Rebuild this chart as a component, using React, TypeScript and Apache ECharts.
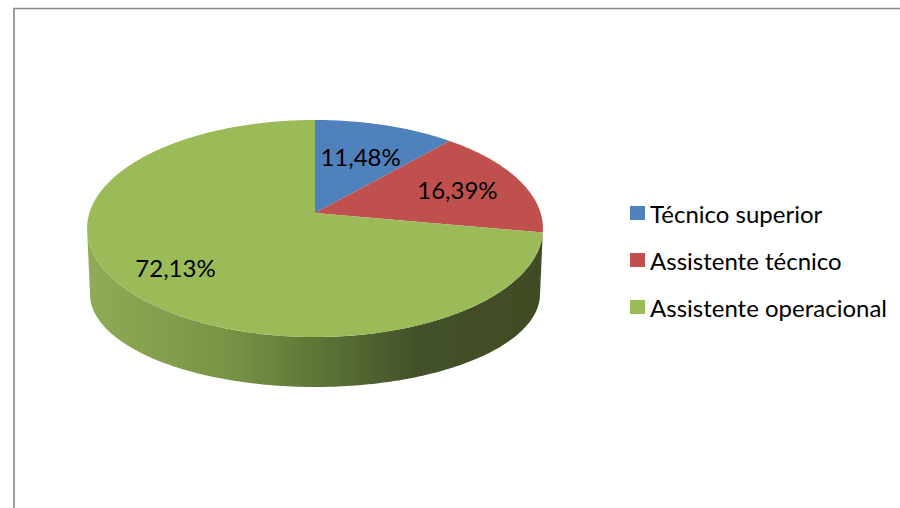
import React, { useEffect, useRef } from "react";
import * as echarts from "echarts";

const categories = ["Técnico superior", "Assistente técnico", "Assistente operacional"];
const shares = [11.48, 16.39, 72.13];
const colors = ["#4F81BD", "#C0504D", "#9BBB59"];
const sideColors = ["#2f4f78", "#7a2f2d", "#3f4b23"];
const labelRadius = [0.62, 0.69, 0.75];

// perspective geometry of the 3D pie
const CX = 315;
const VY = 213;
const A = 225.6;
const B = 106.3;
const K = 0.143;
const BOT_VY = 280.7;
const A2 = 222.7;
const B2 = 91.1;
const FONT = '24px Lato, "Noto Sans", sans-serif';

function topPt(th: number, r = 1): number[] {
  const u = r * Math.sin(th);
  const v = r * Math.cos(th);
  const d = 1 + K * v;
  return [CX + (A * u) / d, VY - (B * v) / d];
}
function botPt(th: number): number[] {
  const u = Math.sin(th);
  const v = Math.cos(th);
  const d = 1 + K * v;
  return [CX + (A2 * u) / d, BOT_VY - (B2 * v) / d];
}
function arc(fn: (t: number) => number[], a: number, b: number): number[][] {
  const n = Math.max(2, Math.ceil(Math.abs(b - a) / (Math.PI / 180)));
  const pts: number[][] = [];
  for (let i = 0; i <= n; i++) pts.push(fn(a + ((b - a) * i) / n));
  return pts;
}

export default function App() {
  const ref = useRef<HTMLDivElement>(null);
  useEffect(() => {
    if (!ref.current) return;
    const chart = echarts.init(ref.current, null, { renderer: "svg" });
    const total = shares.reduce((s, v) => s + v, 0);
    const starts: number[] = [];
    let acc = 0;
    shares.forEach((v) => {
      starts.push(acc);
      acc += v;
    });
    const visL = Math.PI / 2 + Math.asin(K);
    const visR = (3 * Math.PI) / 2 - Math.asin(K);

    const makeSeries = (i: number, pass: "side" | "top") => ({
      type: "custom",
      name: categories[i],
      coordinateSystem: "none",
      itemStyle: { color: colors[i] },
      data: [shares[i]],
      silent: true,
      z: pass === "side" ? 1 : 2,
      renderItem: (params: any, api: any) => {
        const value = api.value(0);
        const s = (2 * Math.PI * starts[i]) / total;
        const e = s + (2 * Math.PI * value) / total;
        const children: any[] = [];
        if (pass === "side") {
          const a = Math.max(s, visL);
          const b = Math.min(e, visR);
          if (a < b) {
            const pts = arc(topPt, a, b).concat(arc(botPt, b, a));
            children.push({
              type: "polygon",
              shape: { points: pts },
              style: {
                fill:
                  i === 2
                    ? {
                        type: "linear",
                        global: true,
                        x: 88,
                        y: 0,
                        x2: 543,
                        y2: 0,
                        colorStops: [
                          { offset: 0, color: "#8fab55" },
                          { offset: 0.3, color: "#7a9447" },
                          { offset: 0.5, color: "#5e7636" },
                          { offset: 0.72, color: "#43512a" },
                          { offset: 1, color: "#3f4b23" },
                        ],
                      }
                    : sideColors[i],
                stroke: null,
              },
            });
          }
        } else {
          const pts = [topPt(0, 0)].concat(arc((t) => topPt(t), s, e));
          children.push({
            type: "polygon",
            shape: { points: pts },
            style: { fill: colors[i], stroke: null },
          });
          const mid = (s + e) / 2;
          const lp = topPt(mid, labelRadius[i]);
          children.push({
            type: "text",
            x: lp[0],
            y: lp[1],
            z2: 10,
            style: {
              text: value.toFixed(2).replace(".", ",") + "%",
              font: FONT,
              fill: "#000",
              align: "center",
              verticalAlign: "middle",
            },
          });
        }
        return { type: "group", children };
      },
    });

    const series: any[] = [];
    for (let i = 0; i < categories.length; i++) series.push(makeSeries(i, "side"));
    for (let i = 0; i < categories.length; i++) series.push(makeSeries(i, "top"));

    chart.setOption({
      animation: false,
      backgroundColor: "#ffffff",
      graphic: [
        {
          type: "rect",
          shape: { x: 14, y: 8.5, width: 920, height: 540 },
          style: { fill: "transparent", stroke: "#888888", lineWidth: 1.6 },
          silent: true,
        },
      ],
      legend: {
        orient: "vertical",
        left: 625,
        top: 194,
        icon: "rect",
        itemWidth: 15,
        itemHeight: 14,
        itemGap: 19,
        selectedMode: false,
        data: categories,
        textStyle: {
          fontSize: 24,
          fontFamily: 'Lato, "Noto Sans", sans-serif',
          color: "#000",
          lineHeight: 28,
        },
      },
      series,
    });
    return () => chart.dispose();
  }, []);
  return (
    <div
      ref={ref}
      style={{ position: "fixed", left: 0, top: 0, width: 900, height: 508 }}
    />
  );
}
